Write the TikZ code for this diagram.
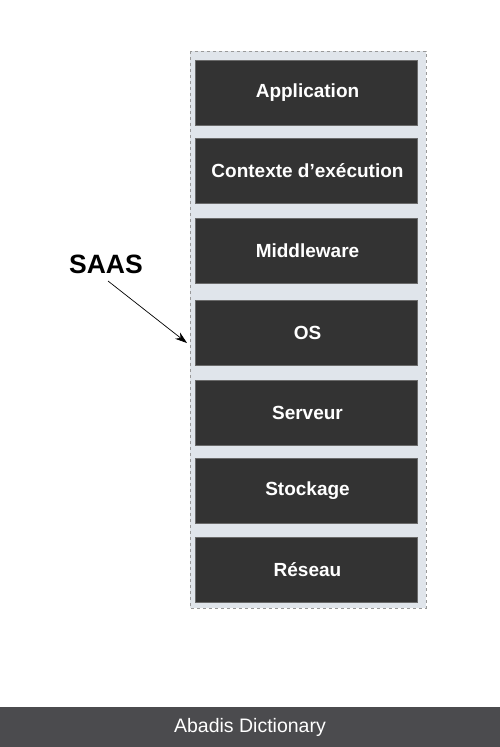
\documentclass[tikz,border=0pt]{standalone}
\usepackage{fontspec}
\setmainfont{Liberation Sans}
\usetikzlibrary{arrows.meta}
\definecolor{boxfill}{HTML}{333333}
\definecolor{boxline}{HTML}{6A6A6A}
\definecolor{contfill}{HTML}{E0E5EB}
\definecolor{contline}{HTML}{999999}
\definecolor{footfill}{HTML}{4B4B4E}
\tikzset{
  layer/.style={draw=boxline, line width=0.8pt, fill=boxfill, minimum width=222pt, minimum height=65pt, inner sep=0pt, text=white, font=\fontsize{19}{22}\selectfont\bfseries},
  container/.style={draw=contline, dashed, line width=0.6pt, fill=contfill},
  pointer/.style={-{Stealth[length=12pt,width=8pt]}, line width=0.7pt, black}
}
\begin{document}
\begin{tikzpicture}[x=1pt,y=-1pt]
\useasboundingbox (0,0) rectangle (500,747);
\fill[white] (0,0) rectangle (500,747);
\draw[container] (190,51) rectangle (426,608);
\node[layer] (app) at (306,92.5) {\hspace*{3pt}Application};
\node[layer] (ctx) at (306,170.5) {\hspace*{3pt}Contexte d’exécution};
\node[layer] (mid) at (306,250.5) {\hspace*{3pt}Middleware};
\node[layer] (os) at (306,332.5) {\hspace*{3pt}OS};
\node[layer] (srv) at (306,412.5) {\hspace*{3pt}Serveur};
\node[layer] (sto) at (306,490.5) {\hspace*{3pt}Stockage};
\node[layer] (net) at (306,569.5) {\hspace*{3pt}Réseau};
\node[font=\fontsize{26.5}{30}\selectfont\bfseries, inner sep=0pt] (saas) at (106,264) {SAAS};
\coordinate (from) at (108,281);
\coordinate (tip) at (187,343);
\draw[pointer] (from) -- (tip);
\fill[footfill] (0,707) rectangle (500,747);
\node[text=white, font=\fontsize{19.5}{22}\selectfont, inner sep=0pt] (foot) at (250,727) {Abadis Dictionary};
\end{tikzpicture}
\end{document}
